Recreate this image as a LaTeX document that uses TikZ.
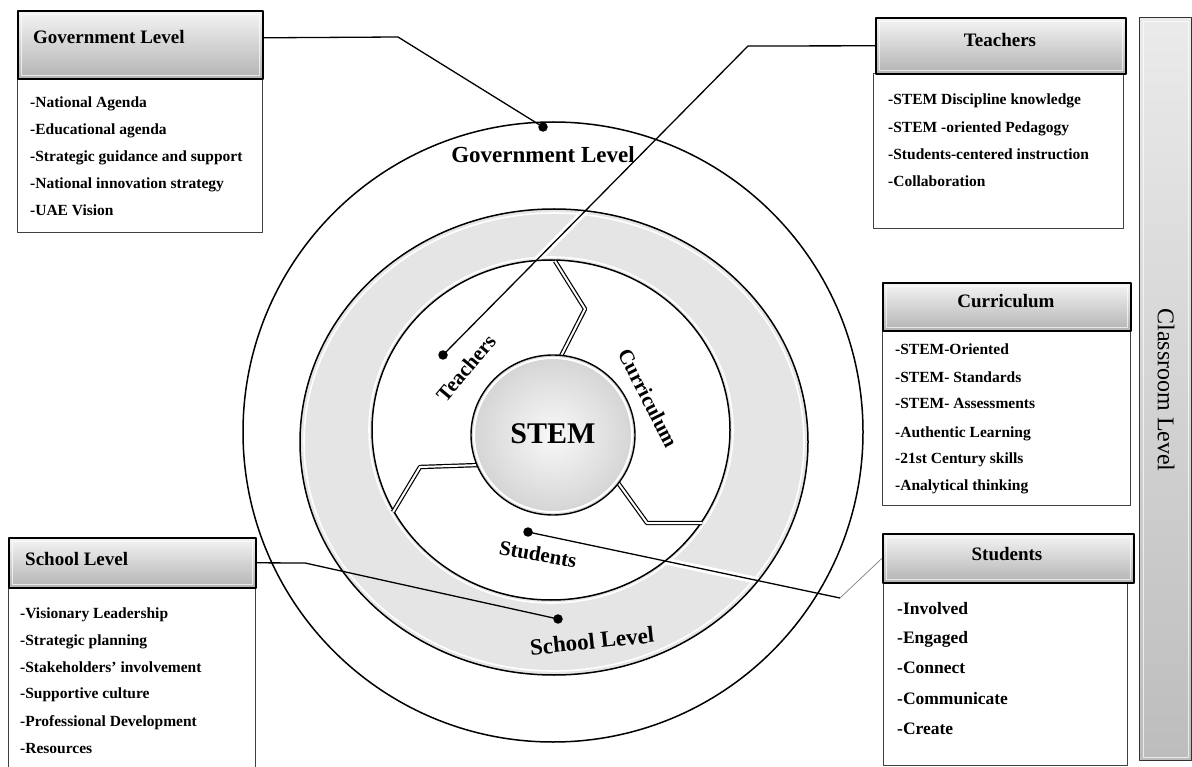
\documentclass[tikz,border=0pt]{standalone}
\usepackage{fontspec}
\setmainfont{Liberation Serif}
\usetikzlibrary{calc}
\begin{document}
\begin{tikzpicture}[x=1pt,y=-1pt,line join=round,
  hdr/.style={draw=black,line width=1.6pt,top color=gray!8,bottom color=gray!60,inner sep=0pt,anchor=north west},
  bodybox/.style={draw=black!75,line width=1pt,fill=white,inner sep=0pt,anchor=north west},
  bevel/.style={draw=white,line width=0.9pt,opacity=0.7},
  hdrtext/.style={font=\fontsize{19}{19}\selectfont\bfseries,inner sep=0pt},
  item/.style={font=\fontsize{15.5}{15.5}\selectfont\bfseries,anchor=base west,inner sep=0pt},
  bigitem/.style={font=\fontsize{17.5}{17.5}\selectfont\bfseries,anchor=base west,inner sep=0pt},
  ringlabel/.style={font=\fontsize{23}{23}\selectfont\bfseries,inner sep=0pt},
  seclabel/.style={font=\fontsize{21}{21}\selectfont\bfseries,inner sep=0pt},
  conn/.style={line width=1.3pt},
  halo/.style={line width=7pt,white},
  dotc/.style={circle,fill=black,minimum size=9.5pt,inner sep=0pt},
  divider/.style={double=white,double distance=2pt,line width=1.2pt},
  circline/.style={line width=1.5pt}
]
\useasboundingbox (0,0) rectangle (1192,767);
\fill[white] (0,0) rectangle (1192,767);
\clip (0,0) rectangle (1192,767);

% ring
\fill[gray!20,even odd rule] (554,442) ellipse [x radius=254pt,y radius=233pt]
                              (551,430) ellipse [x radius=179pt,y radius=170pt];

% positions of dots and bends
\coordinate (govdotp) at (543,127);
\coordinate (tdotp) at (443,355);
\coordinate (sdotp) at (528,532);
\coordinate (schdotp) at (558,619);
\coordinate (govbend) at (398,37);
\coordinate (tbend) at (748,46);
\coordinate (sbend) at (840,598);
\coordinate (schbend) at (305,563);

% halos through ring
\draw[halo] (tbend) -- (tdotp);
\draw[halo] (sdotp) -- (sbend);

% bevel highlights
\draw[white,line width=1.6pt] (554,442) ellipse [x radius=250pt,y radius=229pt];
\draw[white,line width=1.6pt] (551,430) ellipse [x radius=182pt,y radius=173pt];

% circles
\draw[circline] (553,432) ellipse [x radius=310pt,y radius=310pt];
\draw[circline] (554,442) ellipse [x radius=254pt,y radius=233pt];
\draw[circline] (551,430) ellipse [x radius=179pt,y radius=170pt];

% dividers
\draw[divider] (560,358) -- (585,309) -- (555,261);
\draw[divider] (480,465) -- (420,467) -- (393,512);
\draw[divider] (616,480) -- (647,523) -- (702,523);

% STEM circle
\draw[line width=1.4pt,inner color=gray!5,outer color=gray!34] (553,435) ellipse [x radius=82pt,y radius=80pt];
\draw[white,line width=2pt] (553,435) ellipse [x radius=79pt,y radius=77pt];
\node[font=\fontsize{30}{30}\selectfont\bfseries,inner sep=0pt] (stem) at (553,434) {STEM};

% boxes
\node[bodybox,minimum width=245pt,minimum height=154pt] (govbody) at (17,78) {};
\node[hdr,minimum width=245pt,minimum height=68pt] (govhead) at (17,10) {};
\node[bodybox,minimum width=250pt,minimum height=155pt] (teachbody) at (873,73) {};
\node[hdr,minimum width=250pt,minimum height=56pt] (teachhead) at (875,17) {};
\node[bodybox,minimum width=248pt,minimum height=175pt] (curbody) at (882,330) {};
\node[hdr,minimum width=248pt,minimum height=48pt] (curhead) at (882,282) {};
\node[bodybox,minimum width=244pt,minimum height=183pt] (studbody) at (883,582) {};
\node[hdr,minimum width=251pt,minimum height=49pt] (studhead) at (882,533) {};
\node[bodybox,minimum width=247pt,minimum height=200pt] (schbody) at (8,587) {};
\node[hdr,minimum width=247pt,minimum height=50pt] (schoolhead) at (8,537) {};
\node[draw=black!80,line width=1pt,top color=gray!16,bottom color=gray!52,minimum width=52pt,minimum height=743pt,inner sep=0pt,anchor=north west] (classbar) at (1139,17) {};
\foreach \b in {govhead,teachhead,curhead,studhead,schoolhead,classbar}
  \draw[bevel] ([shift={(4pt,-4pt)}]\b.north west) rectangle ([shift={(-4pt,4pt)}]\b.south east);

% connectors
\draw[conn] ([yshift=7pt]govhead.east) -- (govbend) -- (govdotp);
\draw[conn] (teachhead.west) -- (tbend) -- (tdotp);
\draw[conn] (sdotp) -- (sbend);
\draw[gray,line width=0.7pt] (sbend) -- (studhead.west);
\draw[conn] (schoolhead.east) -- (schbend) -- (schdotp);

% dots
\node[dotc] (govdot) at (govdotp) {};
\node[dotc] (tdot) at (tdotp) {};
\node[dotc] (sdot) at (sdotp) {};
\node[dotc] (schdot) at (schdotp) {};

% labels in circles
\node[ringlabel] (govlabel) at (543,155) {Government Level};
\node[ringlabel,rotate=6] (schlabel) at (592,641) {School Level};
\node[seclabel,rotate=50] (tlabel) at (466,368) {Teachers};
\node[seclabel,rotate=-63] (clabel) at (648,398) {Curriculum};
\node[seclabel,rotate=-10] (slabel) at (538,554) {Students};

% header texts
\node[hdrtext,anchor=base west] (govht) at (33,44) {Government Level};
\node[hdrtext,anchor=base] (teachht) at (1000,47) {Teachers};
\node[hdrtext,anchor=base] (curht) at (1006,308) {Curriculum};
\node[hdrtext,anchor=base] (studht) at (1007,560) {Students};
\node[hdrtext,anchor=base west] (schht) at (25,565) {School Level};
\node[font=\fontsize{24}{24}\selectfont,rotate=-90,inner sep=0pt] (classlabel) at (1166,390) {Classroom Level};

% items
\node[item] (g1) at (30,108) {-National Agenda};
\node[item] (g2) at (30,135) {-Educational agenda};
\node[item] (g3) at (30,162) {-Strategic guidance and support};
\node[item] (g4) at (30,189) {-National innovation strategy};
\node[item] (g5) at (30,216) {-UAE Vision};

\node[item] (t1) at (888,105) {-STEM Discipline knowledge};
\node[item] (t2) at (888,133) {-STEM -oriented Pedagogy};
\node[item] (t3) at (888,160) {-Students-centered instruction};
\node[item] (t4) at (888,187) {-Collaboration};

\node[item] (c1) at (895,355) {-STEM-Oriented};
\node[item] (c2) at (895,382) {-STEM- Standards};
\node[item] (c3) at (895,409) {-STEM- Assessments};
\node[item] (c4) at (895,437) {-Authentic Learning};
\node[item] (c5) at (895,463) {-21st Century skills};
\node[item] (c6) at (895,490) {-Analytical thinking};

\node[bigitem] (s1) at (897,614) {-Involved};
\node[bigitem] (s2) at (897,643) {-Engaged};
\node[bigitem] (s3) at (897,673) {-Connect};
\node[bigitem] (s4) at (897,704) {-Communicate};
\node[bigitem] (s5) at (897,734) {-Create};

\node[item] (k1) at (20,618) {-Visionary Leadership};
\node[item] (k2) at (20,645) {-Strategic planning};
\node[item] (k3) at (20,672) {-Stakeholders’ involvement};
\node[item] (k4) at (20,698) {-Supportive culture};
\node[item] (k5) at (20,726) {-Professional Development};
\node[item] (k6) at (20,753) {-Resources};
\end{tikzpicture}
\end{document}
